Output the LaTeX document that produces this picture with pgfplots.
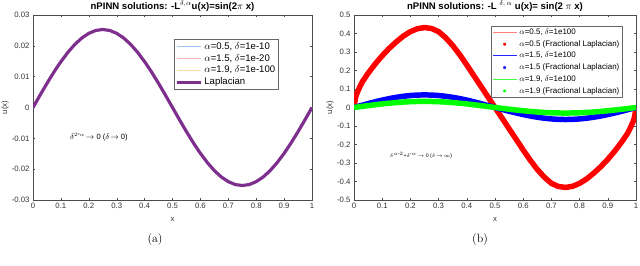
\documentclass[border=0pt]{standalone}
\usepackage{fontspec}
\setsansfont{Liberation Sans}
\usepackage{pgfplots}
\pgfplotsset{compat=1.18}
\usepackage{pgfplotstable}

\definecolor{mpurple}{rgb}{0.494,0.184,0.556}
\definecolor{lblue}{rgb}{0.62,0.76,0.95}
\definecolor{lred}{rgb}{0.98,0.70,0.70}
\definecolor{lyellow}{rgb}{0.98,0.86,0.62}

\pgfplotstableread{
x y
0 0
0.025 0.00396
0.05 0.00782
0.075 0.01149
0.1 0.01487
0.125 0.01789
0.15 0.02047
0.175 0.02254
0.2 0.02406
0.225 0.02499
0.25 0.0253
0.275 0.02499
0.3 0.02406
0.325 0.02254
0.35 0.02047
0.375 0.01789
0.4 0.01487
0.425 0.01149
0.45 0.00782
0.475 0.00396
0.5 0
0.525 -0.00396
0.55 -0.00782
0.575 -0.01149
0.6 -0.01487
0.625 -0.01789
0.65 -0.02047
0.675 -0.02254
0.7 -0.02406
0.725 -0.02499
0.75 -0.0253
0.775 -0.02499
0.8 -0.02406
0.825 -0.02254
0.85 -0.02047
0.875 -0.01789
0.9 -0.01487
0.925 -0.01149
0.95 -0.00782
0.975 -0.00396
1 0
}\lapdata

\pgfplotstableread{
x y
0 0
0.005 0.05
0.01 0.075
0.02 0.11
0.03 0.14
0.05 0.185
0.075 0.235
0.1 0.28
0.125 0.32
0.15 0.355
0.175 0.386
0.2 0.41
0.225 0.426
0.25 0.432
0.275 0.427
0.3 0.41
0.325 0.377
0.35 0.335
0.375 0.285
0.4 0.23
0.425 0.172
0.45 0.115
0.475 0.057
0.5 0
0.525 -0.057
0.55 -0.115
0.575 -0.172
0.6 -0.23
0.625 -0.285
0.65 -0.335
0.675 -0.377
0.7 -0.41
0.725 -0.427
0.75 -0.432
0.775 -0.426
0.8 -0.41
0.825 -0.386
0.85 -0.355
0.875 -0.32
0.9 -0.28
0.925 -0.235
0.95 -0.185
0.97 -0.14
0.98 -0.11
0.99 -0.075
0.995 -0.05
1 0
}\reddata

\pgfplotstableread{
x y
0 0
0.025 0.0106
0.05 0.0210
0.075 0.0309
0.1 0.0400
0.125 0.0481
0.15 0.0550
0.175 0.0606
0.2 0.0647
0.225 0.0672
0.25 0.068
0.275 0.0672
0.3 0.0647
0.325 0.0606
0.35 0.0550
0.375 0.0481
0.4 0.0400
0.425 0.0309
0.45 0.0210
0.475 0.0106
0.5 0
0.525 -0.0103
0.55 -0.0201
0.575 -0.0295
0.6 -0.0382
0.625 -0.0460
0.65 -0.0526
0.675 -0.0579
0.7 -0.0618
0.725 -0.0642
0.75 -0.065
0.775 -0.0642
0.8 -0.0618
0.825 -0.0579
0.85 -0.0526
0.875 -0.0460
0.9 -0.0382
0.925 -0.0295
0.95 -0.0201
0.975 -0.0103
1 0
}\bluedata

\pgfplotstableread{
x y
0 0
0.025 0.0052
0.05 0.0102
0.075 0.0150
0.1 0.0194
0.125 0.0233
0.15 0.0267
0.175 0.0294
0.2 0.0314
0.225 0.0326
0.25 0.033
0.275 0.0326
0.3 0.0314
0.325 0.0294
0.35 0.0267
0.375 0.0233
0.4 0.0194
0.425 0.0150
0.45 0.0102
0.475 0.0052
0.5 0
0.525 -0.0047
0.55 -0.0093
0.575 -0.0136
0.6 -0.0176
0.625 -0.0212
0.65 -0.0243
0.675 -0.0267
0.7 -0.0285
0.725 -0.0296
0.75 -0.030
0.775 -0.0296
0.8 -0.0285
0.825 -0.0267
0.85 -0.0243
0.875 -0.0212
0.9 -0.0176
0.925 -0.0136
0.95 -0.0093
0.975 -0.0047
1 0
}\greendata

\pgfplotsset{
  mstyle/.style={
    scale only axis,
    xmin=0, xmax=1,
    tick align=inside,
    axis line style={black!70, line width=0.5pt},
    tick style={black!70, line width=0.4pt},
    major tick length=2.5pt,
    scaled ticks=false,
    xtick={0,0.1,0.2,0.3,0.4,0.5,0.6,0.7,0.8,0.9,1},
    xticklabels={0,0.1,0.2,0.3,0.4,0.5,0.6,0.7,0.8,0.9,1},
    tick label style={font=\sffamily\fontsize{7.8}{8.5}\selectfont, text=black!80},
    label style={font=\sffamily\fontsize{7.8}{8.5}\selectfont, text=black!80},
    xlabel={x}, ylabel={u(x)},
    xlabel style={yshift=-1.5pt},
    title style={font=\sffamily\bfseries\fontsize{9.6}{11}\selectfont, yshift=-6pt},
    legend cell align=left,
    legend style={font=\sffamily\fontsize{9.6}{10}\selectfont, draw=black!60, line width=0.4pt, fill=white, inner sep=1pt, row sep=-0.5pt},
    legend image code/.code={\draw[##1] (0cm,0cm) -- (0.85cm,0cm);},
  }
}

\begin{document}
\begin{tikzpicture}[x=1bp,y=1bp]
\useasboundingbox (0,0) rectangle (640,265);

\begin{axis}[mstyle, at={(33bp,65bp)}, anchor=south west,
  width=279bp, height=185bp,
  ymin=-0.03, ymax=0.03,
  ytick={-0.03,-0.02,-0.01,0,0.01,0.02,0.03},
  yticklabels={-0.03,-0.02,-0.01,0,0.01,0.02,0.03},
  ylabel style={at={(axis description cs:-0.1,0.5)}, anchor=center},
  title={nPINN solutions: -L$^{\delta,\alpha}$u(x)=sin(2$\pi$ x)},
  legend style={at={(0.505,0.87)}, anchor=north west},
]
\addplot[lblue, line width=1.2pt] table {\lapdata};
\addlegendentry{$\alpha$=0.5, $\delta$=1e-10}
\addplot[lred, line width=1.2pt] table {\lapdata};
\addlegendentry{$\alpha$=1.5, $\delta$=1e-20}
\addplot[lyellow, line width=1.2pt] table {\lapdata};
\addlegendentry{$\alpha$=1.9, $\delta$=1e-100}
\addplot[mpurple, line width=3.2pt] table {\lapdata};
\addlegendentry{Laplacian}
\node[anchor=west, font=\sffamily\fontsize{7.6}{8}\selectfont] at (axis cs:0.12,-0.0095) {$\delta^{2\mbox{-}\alpha}\!\rightarrow$ 0 ($\delta\!\rightarrow$ 0)};
\end{axis}

\begin{axis}[mstyle, at={(354bp,65bp)}, anchor=south west,
  width=282bp, height=185bp,
  ymin=-0.5, ymax=0.5,
  ytick={-0.5,-0.4,-0.3,-0.2,-0.1,0,0.1,0.2,0.3,0.4,0.5},
  yticklabels={-0.5,-0.4,-0.3,-0.2,-0.1,0,0.1,0.2,0.3,0.4,0.5},
  ylabel style={at={(axis description cs:-0.085,0.5)}, anchor=center},
  title={nPINN solutions: -L $^{\delta,\,\alpha}$ u(x)= sin(2 $\pi$ x)},
  legend style={at={(0.486,0.941)}, anchor=north west, font=\sffamily\fontsize{8}{9}\selectfont, row sep=0.5pt},
]
\addplot[red!50, line width=1pt] table {\reddata};
\addlegendentry{$\alpha$=0.5, $\delta$=1e100}
\addplot[red, line width=5.5pt, legend image code/.code={\draw[red, line width=0.7pt, mark=asterisk, mark size=1.6pt] plot coordinates {(0.42cm,0cm)};}] table {\reddata};
\addlegendentry{$\alpha$=0.5 (Fractional Laplacian)}
\addplot[blue!85, line width=1pt] table {\bluedata};
\addlegendentry{$\alpha$=1.5, $\delta$=1e100}
\addplot[blue, line width=5.5pt, legend image code/.code={\draw[blue, line width=0.7pt, mark=asterisk, mark size=1.6pt] plot coordinates {(0.42cm,0cm)};}] table {\bluedata};
\addlegendentry{$\alpha$=1.5 (Fractional Laplacian)}
\addplot[green!75, line width=1pt] table {\greendata};
\addlegendentry{$\alpha$=1.9, $\delta$=1e100}
\addplot[green, line width=5.5pt, legend image code/.code={\draw[green, line width=0.7pt, mark=asterisk, mark size=1.6pt] plot coordinates {(0.42cm,0cm)};}] table {\greendata};
\addlegendentry{$\alpha$=1.9 (Fractional Laplacian)}
\node[anchor=west, font=\sffamily\fontsize{5.2}{6}\selectfont] at (axis cs:0.115,-0.26) {$\delta^{\alpha\mbox{-}2}$+$\delta^{\mbox{-}\alpha}\!\rightarrow$ 0 ($\delta\!\rightarrow\!\infty$)};
\end{axis}

\node[font=\rmfamily\fontsize{12}{14}\selectfont] at (155,25) {(a)};
\node[font=\rmfamily\fontsize{12}{14}\selectfont] at (480,25) {(b)};
\end{tikzpicture}
\end{document}
